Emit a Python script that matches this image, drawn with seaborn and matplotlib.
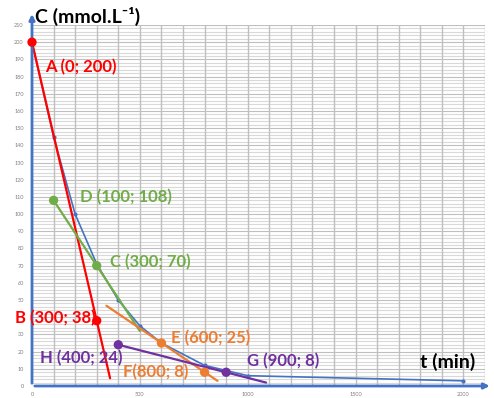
import matplotlib
matplotlib.use("Agg")
import matplotlib.pyplot as plt
import seaborn as sns
import numpy as np

# ---- data ----
curve_t = [0, 100, 200, 300, 400, 500, 600, 800, 1000, 2000]
curve_c = [200, 145, 100, 71, 50, 35, 25, 12, 6, 3]

red_t = [0, 362]
red_c = [200, 4.5]
green_t = [100, 500]
green_c = [108, 32]
orange_t = [345, 860]
orange_c = [46.7, 3]
purple_t = [400, 1085]
purple_c = [24, 2]

pts_names = ["A", "B", "D", "C", "E", "F", "H", "G"]
pts_t = [0, 300, 100, 300, 600, 800, 400, 900]
pts_c = [200, 38, 108, 70, 25, 8, 24, 8]
pts_labels = ["A (0; 200)", "B (300; 38)", "D (100; 108)", "C (300; 70)",
              "E (600; 25)", "F(800; 8)", "H (400; 24)", "G (900; 8)"]

x_ticks = [0, 500, 1000, 1500, 2000]
y_ticks = list(range(0, 211, 10))

RED, GREEN, ORANGE, PURPLE, BLUE = "#FF0000", "#70AD47", "#ED7D31", "#7030A0", "#4472C4"
pts_colors = [RED, RED, GREEN, GREEN, ORANGE, ORANGE, PURPLE, PURPLE]

sns.set_style("white")
plt.rcParams['font.family'] = ['Lato', 'DejaVu Sans']

fig = plt.figure(figsize=(4.94, 3.98), dpi=100)
ax = fig.add_axes([32/494, 12/398, 453/494, 361/398])
ax.set_xlim(0, 2100)
ax.set_ylim(0, 210)

# grid
for y in np.arange(0, 211, 2):
    ax.axhline(y, color="#D9D9D9" if y % 10 else "#BFBFBF", lw=0.8, zorder=0)
for x in range(100, 2101, 100):
    ax.axvline(x, color="#BFBFBF", lw=1.0, zorder=0)

# experimental curve
sns.lineplot(x=curve_t, y=curve_c, ax=ax, color=BLUE, lw=1.2, marker="o",
             markersize=3, markeredgewidth=0, sort=False, estimator=None, zorder=2)

# tangents
for tt, cc, col in [(red_t, red_c, RED), (green_t, green_c, GREEN),
                    (orange_t, orange_c, ORANGE), (purple_t, purple_c, PURPLE)]:
    sns.lineplot(x=tt, y=cc, ax=ax, color=col, lw=1.6, sort=False, estimator=None, zorder=3)

sns.scatterplot(x=pts_t, y=pts_c, hue=pts_names, palette=dict(zip(pts_names, pts_colors)),
                s=45, edgecolor="none", ax=ax, legend=False, zorder=5, clip_on=False)

label_pos = [(60, 185.5), (-79, 39.5), (224, 110), (363, 72),
             (643, 28), (424, 8), (37, 16), (997, 14.5)]
for (lx, ly), txt, col in zip(label_pos, pts_labels, pts_colors):
    ax.text(lx, ly, txt, color=col, fontsize=12, fontweight="bold",
            ha="left", va="center", clip_on=False, zorder=6)

ax.text(1798, 14, "t (min)", color="black", fontsize=14, fontweight="bold",
        ha="left", va="center", zorder=6)
fig.text(35/494, 1 - 16/398, "C (mmol.L\u207b\u00b9)", color="black", fontsize=14,
         fontweight="bold", ha="left", va="center")

# axes with arrows
for s in ["top", "right", "left", "bottom"]:
    ax.spines[s].set_visible(False)
ax.annotate("", xy=(2135, 0), xytext=(0, 0), xycoords="data",
            arrowprops=dict(arrowstyle="-|>", color=BLUE, lw=2, mutation_scale=8),
            annotation_clip=False, zorder=4)
ax.annotate("", xy=(0, 218), xytext=(0, 0), xycoords="data",
            arrowprops=dict(arrowstyle="-|>", color=BLUE, lw=2, mutation_scale=8),
            annotation_clip=False, zorder=4)

ax.set_xticks(x_ticks)
ax.set_yticks(y_ticks)
ax.set_xticklabels([str(v) for v in x_ticks])
# the "40" label is hidden behind the B label in the reference
ax.set_yticklabels(["" if v == 40 else str(v) for v in y_ticks])
ax.tick_params(axis="both", length=0, labelsize=4, labelcolor="#7F7F7F", pad=6)
ax.tick_params(axis="x", pad=4)
ax.set_xlabel("")
ax.set_ylabel("")

fig.savefig("out.png", dpi=100, facecolor="white")
